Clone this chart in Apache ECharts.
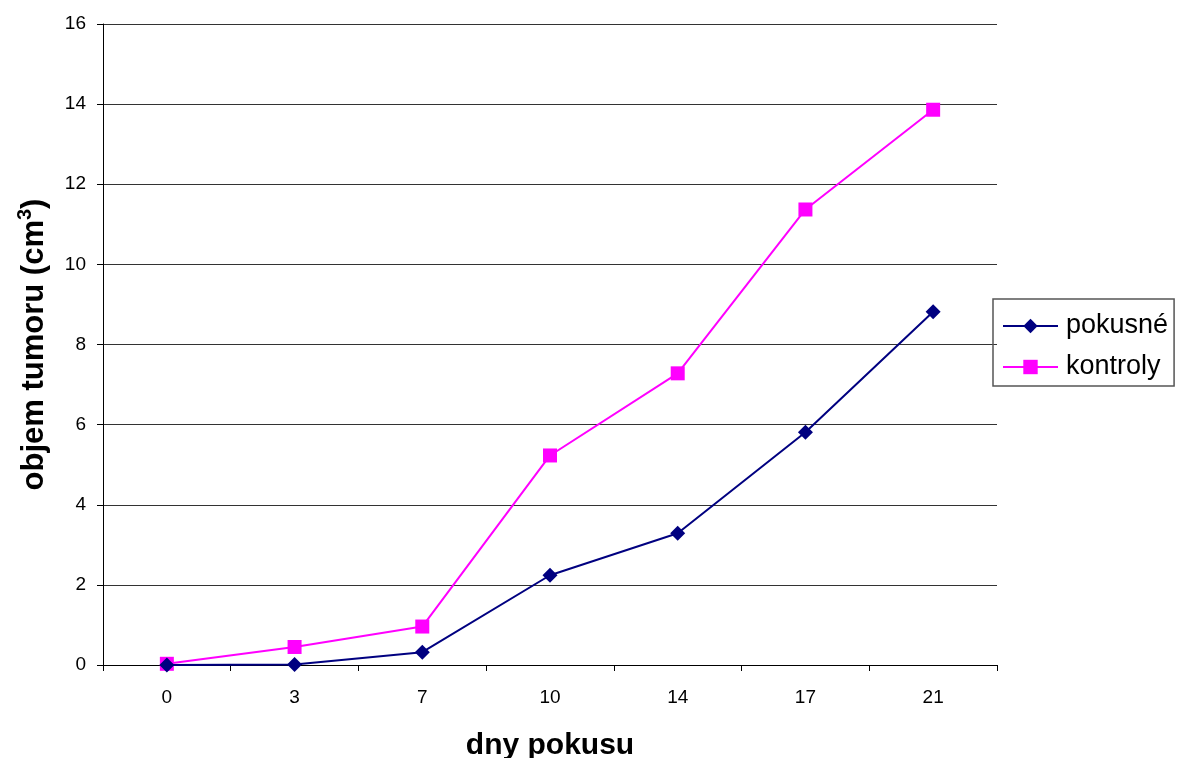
<!DOCTYPE html>
<html>
<head>
<meta charset="utf-8">
<script src="https://cdn.jsdelivr.net/npm/echarts@6/dist/echarts.min.js"></script>
<style>
  html, body { margin: 0; padding: 0; background: #fff; }
  #chart { width: 1177px; height: 758px; }
</style>
</head>
<body>
<div id="chart"></div>
<script>
// Days of the experiment and tumour volume (cm³) per group
const days = ['0', '3', '7', '10', '14', '17', '21'];
const pokusne = [0.0, 0.01, 0.32, 2.24, 3.29, 5.81, 8.82];
const kontroly = [0.03, 0.45, 0.96, 5.23, 7.28, 11.37, 13.86];
const yTicks = { min: 0, max: 16, interval: 2 };

const chart = echarts.init(document.getElementById('chart'));
const font = 'Arial, "Liberation Sans", sans-serif';

chart.setOption({
  animation: false,
  backgroundColor: '#fff',
  textStyle: { fontFamily: font },
  grid: { left: 103, right: 180, top: 24, bottom: 93, outerBoundsMode: 'none', containLabel: false },
  legend: {
    orient: 'vertical',
    left: 993,
    top: 299,
    padding: [13, 6, 5, 9],
    itemWidth: 55,
    itemHeight: 18,
    itemGap: 13,
    borderColor: '#555',
    borderWidth: 1.5,
    textStyle: { fontSize: 27, color: '#000', fontFamily: font, lineHeight: 28, padding: [0, 0, 0, 3] },
    data: ['pokusné', 'kontroly']
  },
  xAxis: {
    type: 'category',
    data: days,
    boundaryGap: true,
    name: 'dny pokusu',
    nameLocation: 'middle',
    nameGap: 66,
    nameTextStyle: { fontSize: 30, fontWeight: 'bold', color: '#000', fontFamily: font },
    axisLine: { lineStyle: { color: '#000', width: 1 } },
    axisTick: { show: true, inside: false, length: 6, alignWithLabel: false, lineStyle: { color: '#000' } },
    axisLabel: { fontSize: 19, color: '#000', margin: 23, fontFamily: font },
    splitLine: { show: false }
  },
  yAxis: {
    type: 'value',
    min: yTicks.min,
    max: yTicks.max,
    interval: yTicks.interval,
    name: 'objem tumoru (cm{sup|3})',
    nameLocation: 'middle',
    nameGap: 50,
    nameRotate: 90,
    nameTextStyle: {
      fontSize: 31, fontWeight: 'bold', color: '#000', fontFamily: font, lineHeight: 38,
      rich: {
        sup: { fontSize: 20, fontWeight: 'bold', color: '#000', verticalAlign: 'top', lineHeight: 22, fontFamily: font }
      }
    },
    axisLine: { show: true, lineStyle: { color: '#000', width: 1 } },
    axisTick: { show: true, inside: false, length: 6, lineStyle: { color: '#000' } },
    axisLabel: { fontSize: 19, color: '#000', margin: 17, fontFamily: font },
    splitLine: { show: true, lineStyle: { color: '#333', width: 1 } }
  },
  series: [
    {
      name: 'pokusné',
      type: 'line',
      data: pokusne,
      color: '#000080',
      lineStyle: { color: '#000080', width: 2 },
      symbol: 'diamond',
      symbolSize: 15,
      itemStyle: { color: '#000080' },
      z: 3
    },
    {
      name: 'kontroly',
      type: 'line',
      data: kontroly,
      color: '#ff00ff',
      lineStyle: { color: '#ff00ff', width: 2 },
      symbol: 'rect',
      symbolSize: 14,
      itemStyle: { color: '#ff00ff' },
      z: 2
    }
  ]
});
</script>
</body>
</html>
